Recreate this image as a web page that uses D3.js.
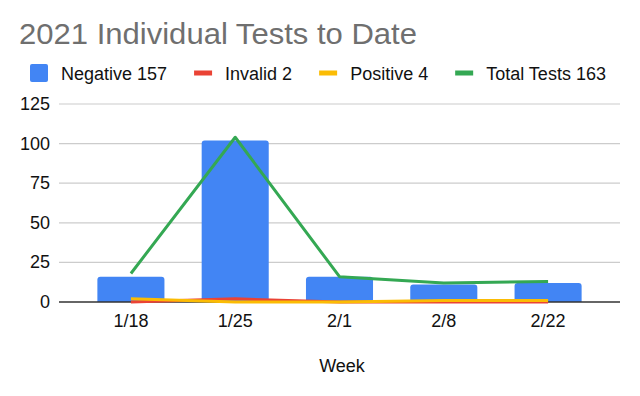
<!DOCTYPE html>
<html>
<head>
<meta charset="utf-8">
<script src="https://cdn.jsdelivr.net/npm/d3@7"></script>
<style>
  body { margin: 0; background: #fff; }
  text { font-family: "Liberation Sans", Arial, sans-serif; }
</style>
</head>
<body>
<div id="chart"></div>
<script>
const weeks = ['1/18', '1/25', '2/1', '2/8', '2/22']
const negative = [16, 102, 16, 11, 12]
const invalid = [0, 2, 0, 0, 0]
const positive = [2, 0, 0, 1, 1]
const total = [18, 104, 16, 12, 13]
const yTicks = [0, 25, 50, 75, 100, 125]
const legendItems = [
    { label: 'Negative 157', color: '#4285f4', shape: 'square' },
    { label: 'Invalid 2', color: '#ea4335', shape: 'dash' },
    { label: 'Positive 4', color: '#fbbc04', shape: 'dash' },
    { label: 'Total Tests 163', color: '#34a853', shape: 'dash' }
]

const width = 640
const height = 396
const margin = { left: 59, right: 20, top: 104, bottom: 94 }

const svg = d3.select('#chart').append('svg')
    .attr('width', width)
    .attr('height', height)

const x = d3.scaleBand()
    .domain(weeks)
    .range([margin.left, width - margin.right])
    .paddingInner(0.357)
    .paddingOuter(0.368)

const y = d3.scaleLinear()
    .domain([0, 125])
    .range([height - margin.bottom, margin.top])

// title
svg.append('text')
    .attr('x', 19)
    .attr('y', 44)
    .attr('fill', '#6f6f6f')
    .attr('font-size', 30)
    .attr('textLength', 398)
    .attr('lengthAdjust', 'spacingAndGlyphs')
    .text('2021 Individual Tests to Date')

// legend
let lx = 30
legendItems.forEach(d => {
    if (d.shape === 'square') {
        svg.append('rect')
            .attr('x', lx).attr('y', 64)
            .attr('width', 18).attr('height', 18)
            .attr('rx', 2)
            .attr('fill', d.color)
    } else {
        svg.append('rect')
            .attr('x', lx).attr('y', 70.5)
            .attr('width', 18).attr('height', 5)
            .attr('fill', d.color)
    }
    const t = svg.append('text')
        .attr('x', lx + 31)
        .attr('y', 80)
        .attr('font-size', 18)
        .attr('fill', '#111')
        .text(d.label)
    lx += 31 + t.node().getComputedTextLength() + 27
})

// grid + y labels
const yAxis = svg.append('g')
yAxis.selectAll('line')
    .data(yTicks.filter(v => v > 0))
    .join('line')
    .attr('x1', margin.left)
    .attr('x2', width - margin.right)
    .attr('y1', d => y(d))
    .attr('y2', d => y(d))
    .attr('stroke', '#cccccc')
    .attr('stroke-width', 1.2)
yAxis.selectAll('text')
    .data(yTicks)
    .join('text')
    .attr('x', 50)
    .attr('y', d => y(d) + 6)
    .attr('text-anchor', 'end')
    .attr('font-size', 18)
    .attr('fill', '#111')
    .text(d => d)

// bars
svg.append('g').selectAll('path')
    .data(negative)
    .join('path')
    .attr('fill', '#4285f4')
    .attr('d', (d, i) => {
        const x0 = x(weeks[i])
        const w = x.bandwidth()
        const y0 = y(d)
        const yb = y(0)
        const r = 3
        return `M${x0},${yb}V${y0 + r}Q${x0},${y0} ${x0 + r},${y0}H${x0 + w - r}Q${x0 + w},${y0} ${x0 + w},${y0 + r}V${yb}Z`
    })

// baseline
svg.append('line')
    .attr('x1', margin.left)
    .attr('x2', width - margin.right)
    .attr('y1', y(0))
    .attr('y2', y(0))
    .attr('stroke', '#333')
    .attr('stroke-width', 1.5)

// lines
const line = d3.line()
    .x((d, i) => x(weeks[i]) + x.bandwidth() / 2)
    .y(d => y(d))

const series = [
    { values: invalid, color: '#ea4335' },
    { values: positive, color: '#fbbc04' },
    { values: total, color: '#34a853' }
]
svg.append('g').selectAll('path')
    .data(series)
    .join('path')
    .attr('fill', 'none')
    .attr('stroke', d => d.color)
    .attr('stroke-width', 3)
    .attr('stroke-linejoin', 'round')
    .attr('d', d => line(d.values))

// x labels
svg.append('g').selectAll('text')
    .data(weeks)
    .join('text')
    .attr('x', d => x(d) + x.bandwidth() / 2)
    .attr('y', 327)
    .attr('text-anchor', 'middle')
    .attr('font-size', 18)
    .attr('fill', '#111')
    .text(d => d)

svg.append('text')
    .attr('x', 342)
    .attr('y', 372)
    .attr('text-anchor', 'middle')
    .attr('font-size', 18)
    .attr('fill', '#111')
    .text('Week')
</script>
</body>
</html>
